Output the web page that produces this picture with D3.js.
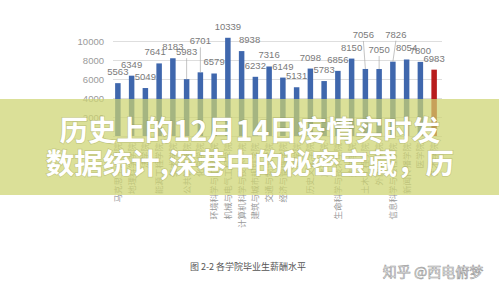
<!DOCTYPE html>
<html>
<head>
<meta charset="utf-8">
<script src="https://cdn.jsdelivr.net/npm/d3@7"></script>
<style>
  body { margin: 0; background: #fff; }
  svg { display: block; }
</style>
</head>
<body>
<div id="chart"></div>
<script>
// 各学院毕业生薪酬水平
var colleges = ['马克思主义学院', '地理科学学院', '法学院', '能源工程学院', '美术学院',
  '公共管理学院', '化学学院', '环境科学与工程学院', '机械与电气工程学院',
  '计算机科学与技术学院', '建筑与城市规划学院', '交通与物流学院', '经济与管理学院',
  '理学院', '历史文化学院', '旅游学院', '生命科学与技术学院', '数学学院',
  '土木工程学院', '外国语学院', '信息科学与工程学院', '新闻传播学院', '医学院', '艺术学院']
var salary = [5563, 6349, 5049, 7641, 8183, 5983, 6701, 6579, 10339, 8938, 6232, 7316,
  6149, 5131, 7098, 5783, 6856, 8150, 7056, 7050, 7826, 8054, 7800, 6983]
var yTicks = [0, 2000, 4000, 6000, 8000, 10000]
var highlight = ['艺术学院']

var caption = '图 2-2  各学院毕业生薪酬水平'
var titleLines = ['历史上的12月14日疫情实时发', '数据统计,深巷中的秘密宝藏，历']
var watermark = '知乎 @西电俯梦'

// labels that were pushed up with a leader line, and a few nudged sideways
var labelLift = { 5: 16, 6: 20, 18: 23, 19: 8, 20: 16 }
var labelShift = { 3: -4, 9: 8, 18: -2, 20: 3 }

const drawChart = () => {
  var width = 499, height = 294

  var svg = d3.select('#chart').
    append('svg').
    attr('width', width).
    attr('height', height)

  var x = d3.scaleBand().
    domain(colleges).
    range([111, 441]).
    paddingInner(0.6).
    paddingOuter(0.3)

  var y = d3.scaleLinear().
    domain([0, 10000]).
    range([136, 41])

  // gridlines
  svg.append('g').
    selectAll('line').
    data(yTicks).
    enter().
    append('line').
    attr('x1', 113).
    attr('x2', 442).
    attr('y1', d => y(d) + 0.5).
    attr('y2', d => y(d) + 0.5).
    attr('stroke', '#dedede').
    attr('stroke-width', 1)

  var yAxis = svg.append('g').
    attr('transform', 'translate(104,0)').
    call(d3.axisLeft(y).tickValues(yTicks).tickFormat(d3.format('d')).tickSize(0).tickPadding(0))
  yAxis.select('.domain').remove()
  yAxis.selectAll('text').
    attr('fill', '#9a9a9a').
    style('font-family', 'Liberation Sans, Arial, sans-serif').
    style('font-size', '9.5px')

  // bars
  svg.append('g').
    selectAll('rect').
    data(colleges).
    enter().
    append('rect').
    attr('x', d => x(d)).
    attr('width', x.bandwidth()).
    attr('y', (d, i) => y(salary[i])).
    attr('height', (d, i) => y(0) - y(salary[i])).
    attr('fill', d => highlight.includes(d) ? '#b81d1d' : '#3f67ad')

  // leader lines
  svg.append('g').
    selectAll('line').
    data(colleges.map((d, i) => i).filter(i => labelLift[i])).
    enter().
    append('line').
    attr('x1', i => x(colleges[i]) + x.bandwidth() / 2 + (labelShift[i] || 0)).
    attr('x2', i => x(colleges[i]) + x.bandwidth() / 2).
    attr('y1', i => y(salary[i]) - 7 - labelLift[i] + 2).
    attr('y2', i => y(salary[i])).
    attr('stroke', '#aaa').
    attr('stroke-width', 0.7)

  // value labels
  svg.append('g').
    selectAll('text').
    data(colleges).
    enter().
    append('text').
    attr('x', (d, i) => x(d) + x.bandwidth() / 2 + (labelShift[i] || 0)).
    attr('y', (d, i) => y(salary[i]) - 8 - (labelLift[i] || 0)).
    attr('text-anchor', 'middle').
    attr('fill', '#7a7a7a').
    style('font-family', 'Liberation Sans, Arial, sans-serif').
    style('font-size', '9.5px').
    text((d, i) => salary[i])

  // category labels, rotated
  svg.append('g').
    selectAll('text').
    data(colleges).
    enter().
    append('text').
    attr('transform', d => 'translate(' + (x(d) + x.bandwidth() / 2 + 3) + ',143) rotate(-90)').
    attr('text-anchor', 'end').
    attr('fill', '#9a9a9a').
    style('font-family', 'Noto Sans CJK SC, sans-serif').
    style('font-size', '8.5px').
    text(d => d)

  svg.append('text').
    attr('x', 248).
    attr('y', 270).
    attr('text-anchor', 'middle').
    attr('fill', '#555').
    style('font-family', 'Noto Sans CJK SC, sans-serif').
    style('font-size', '9px').
    text(caption)

  svg.append('text').
    attr('x', 433).
    attr('y', 277).
    attr('text-anchor', 'middle').
    attr('fill', '#fafafa').
    attr('stroke', '#9c9c9c').
    attr('stroke-width', 0.6).
    style('font-family', 'Noto Sans CJK SC, sans-serif').
    style('font-size', '14px').
    text(watermark)

  // banner over the chart
  svg.append('rect').
    attr('x', 0).
    attr('y', 99).
    attr('width', width).
    attr('height', 96).
    attr('fill', 'rgb(205,212,112)').
    attr('opacity', 0.72)

  svg.append('g').
    selectAll('text').
    data(titleLines).
    enter().
    append('text').
    attr('x', 250).
    attr('y', (d, i) => 141 + i * 33).
    attr('text-anchor', 'middle').
    attr('fill', '#fff').
    style('font-family', 'Noto Sans CJK SC, sans-serif').
    style('font-weight', 'bold').
    style('font-size', '28.5px').
    style('paint-order', 'stroke').
    attr('stroke', 'rgba(120,120,60,0.25)').
    attr('stroke-width', 1.5).
    text(d => d)
}

drawChart()
</script>
</body>
</html>
